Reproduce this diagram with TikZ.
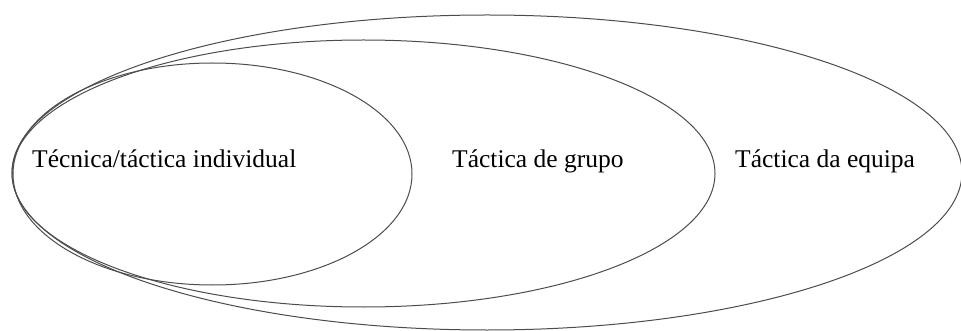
\documentclass[tikz,border=0pt]{standalone}
\usepackage{fontspec}
\setmainfont{Liberation Serif}
\begin{document}
\begin{tikzpicture}[x=1pt,y=-1pt,
  ring/.style={draw=black!70,line width=1pt},
  lbl/.style={font=\fontsize{25.5}{28}\selectfont,anchor=base west,inner sep=0pt}]
\useasboundingbox (0,0) rectangle (961,331);
\draw[ring] (487,172.5) ellipse [x radius=475, y radius=157.5];
\draw[ring] (363.5,173.5) ellipse [x radius=351.5, y radius=133.5];
\draw[ring] (212.5,174) ellipse [x radius=199.5, y radius=111];
\node[lbl] (ind) at (32,168) {Técnica/táctica individual};
\node[lbl] (grp) at (452,168) {Táctica de grupo};
\node[lbl] (eqp) at (735,168) {Táctica da equipa};
\end{tikzpicture}
\end{document}
